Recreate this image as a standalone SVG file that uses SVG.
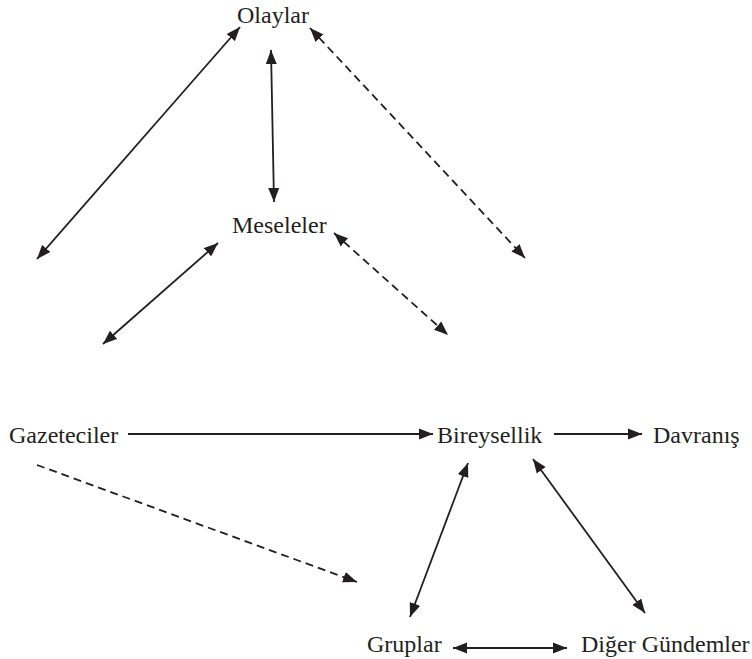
<svg xmlns="http://www.w3.org/2000/svg" width="752" height="659" viewBox="0 0 752 659">
<style>
text{font-family:"Liberation Serif","Times New Roman",serif;font-size:24px;fill:#231f20}
.c{stroke:#231f20;stroke-width:1.8;fill:none;marker-end:url(#ah)}
.b{marker-start:url(#ah)}
.d{stroke-dasharray:8 5}
</style>
<defs>
<marker id="ah" markerUnits="userSpaceOnUse" markerWidth="16" markerHeight="12" refX="14" refY="6" orient="auto-start-reverse" viewBox="0 0 16 12">
<path d="M0,0.5 L14,6 L0,11.5 z" fill="#231f20"/>
</marker>
</defs>
<rect width="752" height="659" fill="#fff"/>
<g id="connectors">
<line class="c b" x1="240" y1="27" x2="37" y2="259"/>
<line class="c b" x1="271" y1="50" x2="274" y2="202"/>
<line class="c b d" x1="310" y1="28" x2="525" y2="258"/>
<line class="c b" x1="218" y1="243" x2="103" y2="344"/>
<line class="c b d" x1="334" y1="233" x2="448" y2="335"/>
<line class="c" x1="128" y1="434" x2="433" y2="434"/>
<line class="c" x1="554" y1="434" x2="642" y2="434"/>
<line class="c d" x1="37" y1="465" x2="357" y2="582"/>
<line class="c b" x1="468" y1="463" x2="410" y2="617"/>
<line class="c b" x1="533" y1="459" x2="645" y2="613"/>
<line class="c b" x1="453" y1="648" x2="567" y2="648"/>
</g>
<g id="olaylar"><text x="237" y="23">Olaylar</text></g>
<g id="meseleler"><text x="232" y="233">Meseleler</text></g>
<g id="gazeteciler"><text x="9" y="443">Gazeteciler</text></g>
<g id="bireysellik"><text x="437" y="443">Bireysellik</text></g>
<g id="davranis"><text x="653" y="443">Davranış</text></g>
<g id="gruplar"><text x="367" y="652">Gruplar</text></g>
<g id="diger"><text x="581" y="652">Diğer Gündemler</text></g>
</svg>
